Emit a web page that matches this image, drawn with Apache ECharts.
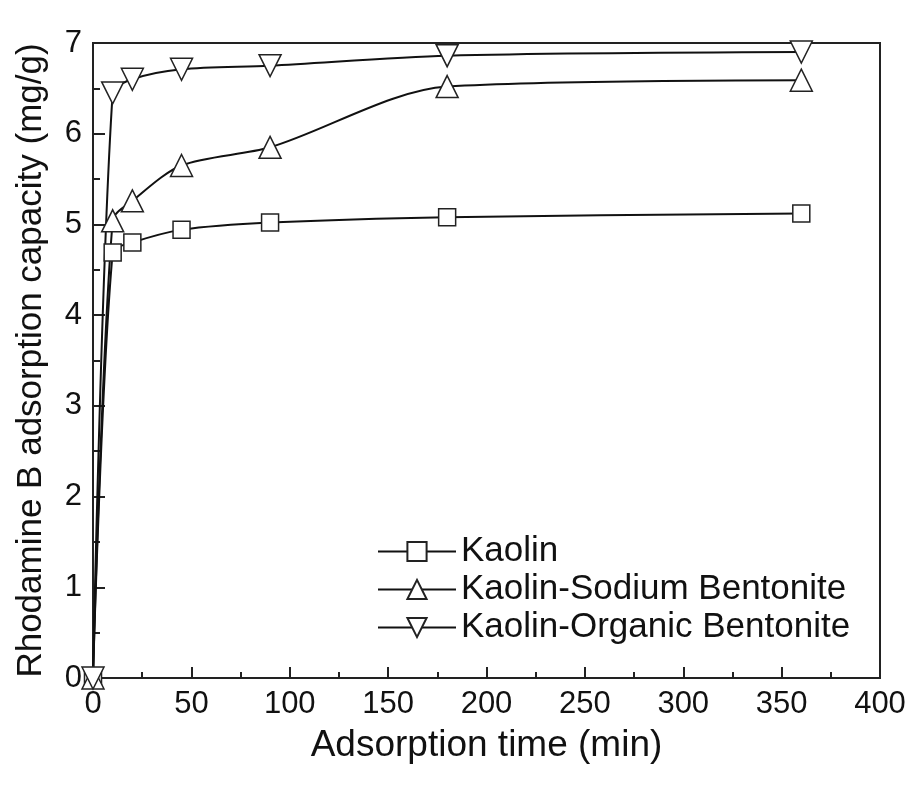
<!DOCTYPE html>
<html>
<head>
<meta charset="utf-8">
<script src="https://cdn.jsdelivr.net/npm/echarts@6/dist/echarts.min.js"></script>
<style>
  html, body { margin: 0; padding: 0; background: #fff; }
  #chart { width: 916px; height: 788px; }
</style>
</head>
<body>
<div id="chart"></div>
<script>
// adsorption time (min)
var times = [0, 10, 20, 45, 90, 180, 360];
// adsorption capacity (mg/g)
var kaolin = [0, 4.69, 4.80, 4.94, 5.02, 5.08, 5.12];
var sodium = [0, 5.04, 5.26, 5.65, 5.85, 6.52, 6.59];
var organic = [0, 6.45, 6.60, 6.71, 6.75, 6.86, 6.90];
var names = ['Kaolin', 'Kaolin-Sodium Bentonite', 'Kaolin-Organic Bentonite'];

var font = 'Liberation Sans, Arial, sans-serif';

function pairs(ys) {
  return times.map(function (t, i) { return [t, ys[i]]; });
}

function mkSeries(name, ys, symbol, size) {
  return {
    name: name,
    type: 'line',
    smooth: 0.3,
    data: pairs(ys),
    symbol: symbol,
    symbolSize: size,
    showAllSymbol: true,
    lineStyle: { color: '#111', width: 2 },
    itemStyle: { color: '#fff', borderColor: '#222', borderWidth: 1.5 },
    z: 3
  };
}

var chart = echarts.init(document.getElementById('chart'));
chart.setOption({
  backgroundColor: '#fff',
  animation: false,
  grid: {
    left: 93, right: 36, top: 43, bottom: 110,
    show: true, borderColor: '#222', borderWidth: 2
  },
  legend: {
    orient: 'vertical',
    left: 372, top: 529,
    itemWidth: 78, itemHeight: 24,
    itemGap: 3,
    textStyle: { fontFamily: font, fontSize: 35, color: '#111' },
    data: names
  },
  xAxis: {
    type: 'value',
    min: 0, max: 400, interval: 50,
    name: 'Adsorption time (min)',
    nameLocation: 'middle',
    nameGap: 49,
    nameTextStyle: { fontFamily: font, fontSize: 37, color: '#111' },
    axisLine: { lineStyle: { color: '#222', width: 2 } },
    axisTick: { inside: true, length: 11, lineStyle: { color: '#222', width: 2 } },
    minorTick: { show: true, splitNumber: 2, length: 6, lineStyle: { color: '#222', width: 2 } },
    axisLabel: { fontFamily: font, fontSize: 31, color: '#111', margin: 11 },
    splitLine: { show: false }
  },
  yAxis: {
    type: 'value',
    min: 0, max: 7, interval: 1,
    name: 'Rhodamine B adsorption capacity (mg/g)',
    nameLocation: 'middle',
    nameGap: 44,
    nameTextStyle: { fontFamily: font, fontSize: 35, color: '#111' },
    axisLine: { lineStyle: { color: '#222', width: 2 } },
    axisTick: { inside: true, length: 12, lineStyle: { color: '#222', width: 2 } },
    minorTick: { show: true, splitNumber: 2, length: 7, lineStyle: { color: '#222', width: 2 } },
    axisLabel: { fontFamily: font, fontSize: 31, color: '#111', margin: 11 },
    splitLine: { show: false }
  },
  series: [
    mkSeries(names[0], kaolin, 'rect', 17),
    mkSeries(names[1], sodium, 'triangle', 22),
    mkSeries(names[2], organic, 'path://M0,0 L2,0 L1,1.8 Z', 22)
  ]
});
</script>
</body>
</html>
